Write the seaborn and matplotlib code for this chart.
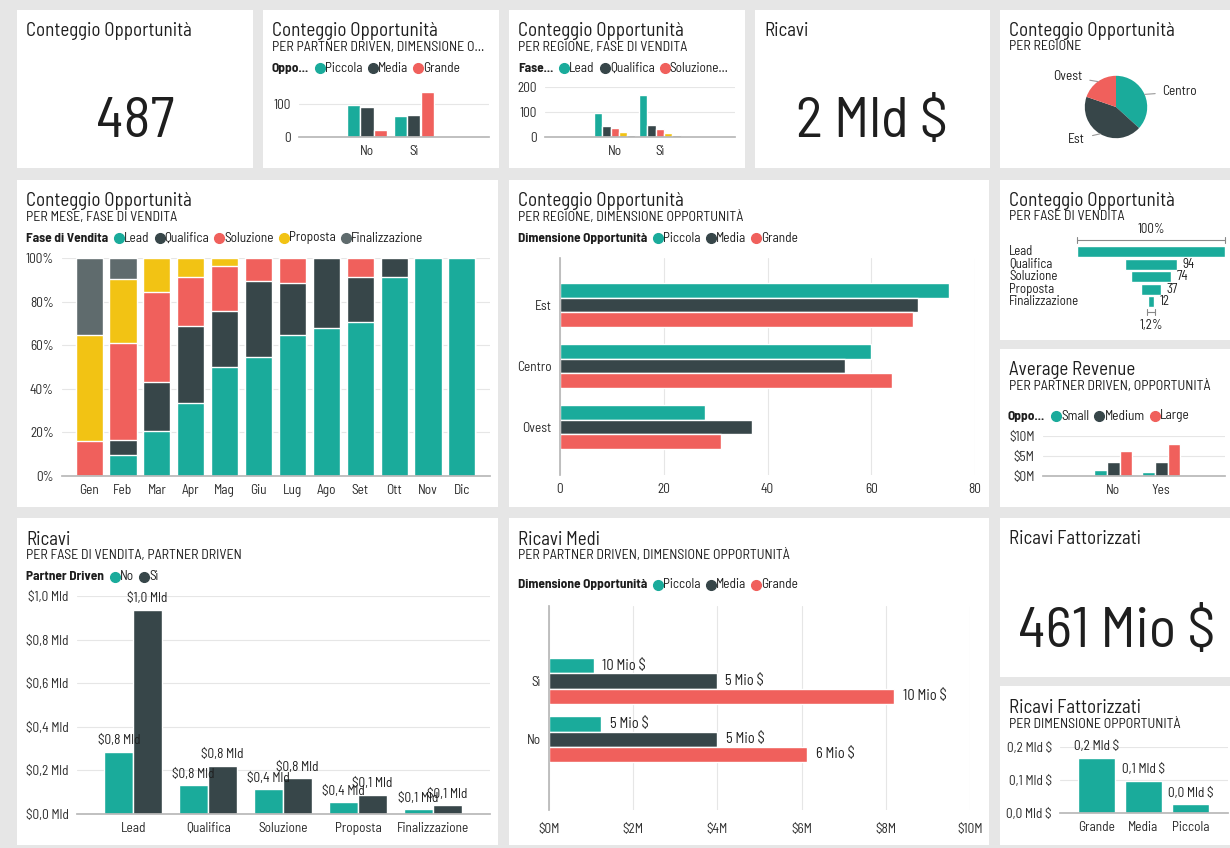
import matplotlib
matplotlib.use("Agg")
import matplotlib.pyplot as plt
import matplotlib.transforms as mtrans
from matplotlib import font_manager as fm
from matplotlib.lines import Line2D
from matplotlib.patches import Rectangle
import numpy as np
import pandas as pd
import seaborn as sns

sns.set_theme(style="white")


def pick(*names):
    for n in names:
        try:
            fm.findfont(fm.FontProperties(family=n), fallback_to_default=False)
            return n
        except Exception:
            pass
    return "DejaVu Sans"


NARROW = pick("Barlow Semi Condensed", "Roboto Condensed", "Archivo Narrow", "Roboto")
plt.rcParams["font.family"] = [NARROW, "DejaVu Sans"]

TEAL, DARK, RED, YELLOW, GRAY = "#1AAB9B", "#374649", "#F0605C", "#F2C314", "#5F6B6D"

# ---- data ----
partner = ["No", "Sì"]
dim_it = ["Piccola", "Media", "Grande"]
cnt_piccola = [95, 62]
cnt_media = [90, 66]
cnt_grande = [22, 135]

fasi = ["Lead", "Qualifica", "Soluzione", "Proposta", "Finalizzazione"]
fase_no = [98, 45, 35, 22, 8]
fase_si = [168, 47, 32, 15, 8]

mesi = ["Gen", "Feb", "Mar", "Apr", "Mag", "Giu", "Lug", "Ago", "Set", "Ott", "Nov", "Dic"]
pct_lead = [0, 9.5, 20.8, 33.6, 49.9, 54.5, 64.6, 67.9, 70.5, 91.5, 100, 100]
pct_qual = [0, 6.8, 22.1, 35.3, 25.8, 35.1, 24.1, 32.1, 20.8, 8.5, 0, 0]
pct_sol = [16, 44.7, 41.7, 22.4, 20.6, 10.4, 11.3, 0, 8.7, 0, 0, 0]
pct_prop = [48.5, 29.5, 15.4, 8.7, 3.7, 0, 0, 0, 0, 0, 0, 0]
pct_fin = [35.5, 9.5, 0, 0, 0, 0, 0, 0, 0, 0, 0, 0]

regioni = ["Est", "Centro", "Ovest"]
reg_piccola = [75, 60, 28]
reg_media = [69, 55, 37]
reg_grande = [68, 64, 31]

pie_regioni = ["Centro", "Est", "Ovest"]

funnel_val = [270, 94, 74, 37, 12]
funnel_lbl = ["", "94", "74", "37", "12"]

partner_en = ["No", "Yes"]
dim_en = ["Small", "Medium", "Large"]
avg_small = [1.4, 1.0]
avg_medium = [3.5, 3.5]
avg_large = [6.2, 7.9]

ric_no = [0.286, 0.133, 0.113, 0.056, 0.024]
ric_si = [0.938, 0.222, 0.164, 0.089, 0.040]
ric_no_lbl = ["$0,8 Mld", "$0,8 Mld", "$0,4 Mld", "$0,4 Mld", "$0,1 Mld"]
ric_si_lbl = ["$1,0 Mld", "$0,8 Mld", "$0,8 Mld", "$0,1 Mld", "$0,1 Mld"]

medi_partner = ["Sì", "No"]
medi_piccola = [1.06, 1.24]
medi_media = [3.99, 4.0]
medi_grande = [8.2, 6.14]
medi_lbl = {"Piccola": ["10 Mio $", "5 Mio $"], "Media": ["5 Mio $", "5 Mio $"],
            "Grande": ["10 Mio $", "6 Mio $"]}

fatt_dim = ["Grande", "Media", "Piccola"]
fatt_val = [0.168, 0.098, 0.028]
fatt_lbl = ["0,2 Mld $", "0,1 Mld $", "0,0 Mld $"]

kpi_count = "487"
kpi_ricavi = "2 Mld $"
kpi_fatt = "461 Mio $"

# ---- layout helpers (pixel coords, y from top) ----
W, H = 1230, 848
fig = plt.figure(figsize=(W / 100, H / 100), dpi=100, facecolor="#e6e6e6")
renderer = fig.canvas.get_renderer()
INK = "#1e1e1e"
FS = 9.6


def box(x0, y0, x1, y1):
    return [x0 / W, 1 - y1 / H, (x1 - x0) / W, (y1 - y0) / H]


def ftext(x, y, s, **kw):
    return fig.text(x / W, 1 - y / H, s, **kw)


def panel(x0, y0, x1, y1, title, sub=None, ty=21, sy=37):
    fig.add_artist(Rectangle((x0 / W, 1 - y1 / H), (x1 - x0) / W, (y1 - y0) / H,
                             transform=fig.transFigure, fc="white", ec="none", zorder=-1))
    ftext(x0 + 9, y0 + ty, title, fontsize=13.6, va="center", color=INK)
    if sub:
        ftext(x0 + 9, y0 + sy, sub, fontsize=10, va="center", color=INK)


def legend_row(x, y, title, labels, colors, fs=FS):
    t = ftext(x, y, title, fontsize=fs, fontweight="bold", va="center", color=INK)
    cur = t.get_window_extent(renderer).x1 + 7
    for lab, c in zip(labels, colors):
        fig.add_artist(Line2D([(cur + 4) / W], [1 - y / H], marker="o", ms=7, color=c,
                              ls="", transform=fig.transFigure))
        t = ftext(cur + 9, y, lab, fontsize=fs, va="center", color=INK)
        cur = t.get_window_extent(renderer).x1 + 6


def style(ax, grid="y", base="bottom"):
    for s in ax.spines.values():
        s.set_visible(False)
    if base:
        ax.spines[base].set_visible(True)
        ax.spines[base].set_color("#b8b8b8")
    ax.tick_params(length=0, labelsize=FS, colors="#2a2a2a", pad=6)
    ax.set_xlabel("")
    ax.set_ylabel("")
    ax.set_axisbelow(True)
    if grid:
        ax.grid(axis=grid, color="#e6e6e6", lw=0.8)
    ax.set_facecolor("none")


def big(x, y, s):
    ftext(x, y, s, fontsize=41, ha="center", va="baseline", color=INK)


# ---- KPI cards ----
panel(17, 10, 253, 168, "Conteggio Opportunità")
big(135, 137, kpi_count)
panel(755, 10, 990, 168, "Ricavi")
big(872, 137, kpi_ricavi)
panel(1000, 518, 1230, 677, "Ricavi Fattorizzati")
big(1117, 647, kpi_fatt)

# ---- Conteggio per partner driven, dimensione ----
panel(263, 10, 499, 168, "Conteggio Opportunità", "PER PARTNER DRIVEN, DIMENSIONE O...")
legend_row(272, 68, "Oppo...", dim_it, [TEAL, DARK, RED])
df = pd.DataFrame({"p": partner * 3, "d": np.repeat(dim_it, 2),
                   "v": cnt_piccola + cnt_media + cnt_grande})
ax = fig.add_axes(box(299, 87, 489, 137))
sns.barplot(df, x="p", y="v", hue="d", hue_order=dim_it, palette=[TEAL, DARK, RED],
            width=0.88, gap=0.05, errorbar=None, legend=False, saturation=1, ax=ax)
style(ax)
ax.set_ylim(0, 150)
ax.set_yticks([0, 100])
ax.set_xlim(-1.45, 2.6)

# ---- Conteggio per regione, fase ----
panel(509, 10, 745, 168, "Conteggio Opportunità", "PER REGIONE, FASE DI VENDITA")
legend_row(518, 68, "Fase...", ["Lead", "Qualifica", "Soluzione..."], [TEAL, DARK, RED])
df = pd.DataFrame({"p": partner * 5, "f": np.repeat(fasi, 2),
                   "v": [v for pair in zip(fase_no, fase_si) for v in pair]})
ax = fig.add_axes(box(545, 87, 735, 137))
sns.barplot(df, x="p", y="v", hue="f", hue_order=fasi, palette=[TEAL, DARK, RED, YELLOW, GRAY],
            width=0.92, errorbar=None, legend=False, saturation=1, ax=ax)
style(ax)
ax.set_ylim(0, 200)
ax.set_yticks([0, 100, 200])
ax.set_xlim(-1.55, 2.67)

# ---- Pie per regione ----
panel(1000, 10, 1230, 168, "Conteggio Opportunità", "PER REGIONE")
reg_tot = dict(zip(regioni, np.array(reg_piccola) + np.array(reg_media) + np.array(reg_grande)))
ax = fig.add_axes(box(1077, 68, 1155, 146))
wedges, _ = ax.pie([reg_tot[r] for r in pie_regioni], colors=[TEAL, DARK, RED], startangle=90,
                   counterclock=False, wedgeprops=dict(linewidth=0))
ax.set_aspect("equal")
for w, name in zip(wedges, pie_regioni):
    mid = np.deg2rad((w.theta1 + w.theta2) / 2)
    c, s = np.cos(mid), np.sin(mid)
    sign = 1 if c >= 0 else -1
    tx, ty = 1.25 * c + sign * 0.35, 1.2 * s
    ax.annotate(name, xy=(c, s), xytext=(tx, ty), ha="left" if sign > 0 else "right",
                va="center", fontsize=FS, color=INK,
                arrowprops=dict(arrowstyle="-", color="#999999", lw=0.8, shrinkA=3, shrinkB=0))

# ---- 100% stacked per mese ----
panel(17, 180, 498, 507, "Conteggio Opportunità", "PER MESE, FASE DI VENDITA")
legend_row(26, 238, "Fase di Vendita", fasi, [TEAL, DARK, RED, YELLOW, GRAY])
ax = fig.add_axes(box(62, 258, 490, 476))
layers = [pct_lead, pct_qual, pct_sol, pct_prop, pct_fin]
cum = np.cumsum(np.array(layers), axis=0)
for k, col in reversed(list(enumerate([TEAL, DARK, RED, YELLOW, GRAY]))):
    sns.barplot(x=mesi, y=cum[k], order=mesi, color=col, width=0.8, errorbar=None,
                saturation=1, ax=ax)
style(ax)
ax.set_ylim(0, 100)
ax.set_yticks([0, 20, 40, 60, 80, 100])
ax.set_yticklabels([f"{t}%" for t in [0, 20, 40, 60, 80, 100]])
ax.set_xlim(-0.8, 11.83)

# ---- per regione, dimensione (horizontal) ----
panel(509, 180, 989, 507, "Conteggio Opportunità", "PER REGIONE, DIMENSIONE OPPORTUNITÀ")
legend_row(518, 238, "Dimensione Opportunità", dim_it, [TEAL, DARK, RED])
df = pd.DataFrame({"r": regioni * 3, "d": np.repeat(dim_it, 3),
                   "v": reg_piccola + reg_media + reg_grande})
ax = fig.add_axes(box(560, 258, 975, 475))
sns.barplot(df, y="r", x="v", hue="d", hue_order=dim_it, order=regioni, palette=[TEAL, DARK, RED],
            width=0.72, errorbar=None, legend=False, orient="h", saturation=1, ax=ax)
style(ax, grid="x", base="left")
ax.set_xlim(0, 80)
ax.set_xticks([0, 20, 40, 60, 80])
ax.set_ylim(2.79, -0.77)

# ---- funnel ----
panel(1000, 180, 1230, 340, "Conteggio Opportunità", "PER FASE DI VENDITA")
ax = fig.add_axes(box(1077, 245.5, 1225, 308))
ax.barh(range(len(fasi)), funnel_val, left=-np.array(funnel_val) / 2, height=0.86, color=TEAL)
ax.set_xlim(-135, 135)
ax.set_ylim(4.5, -0.5)
ax.axis("off")
blend = mtrans.blended_transform_factory(fig.transFigure, ax.transData)
for i, (f, v, lab) in enumerate(zip(fasi, funnel_val, funnel_lbl)):
    ax.text(1009 / W, i, f, transform=blend, va="center", fontsize=9.3, color=INK)
    if lab:
        ax.text(v / 2 + 10, i, lab, va="center", ha="left", fontsize=9.3, color=INK)
bc = "#888888"
ax.plot([-135, 135], [-0.94, -0.94], color=bc, lw=0.8, clip_on=False)
for xe in (-135, 135):
    ax.plot([xe, xe], [-1.2, -0.68], color=bc, lw=0.8, clip_on=False)
ax.text(0, -1.75, "100%", ha="center", va="center", fontsize=9.3, color=INK)
ax.plot([-8, 8], [4.82, 4.82], color=bc, lw=0.8, clip_on=False)
for xe in (-8, 8):
    ax.plot([xe, xe], [4.6, 5.05], color=bc, lw=0.8, clip_on=False)
ax.text(0, 5.86, "1,2%", ha="center", va="center", fontsize=9.3, color=INK)

# ---- Average Revenue ----
panel(1000, 349, 1230, 507, "Average Revenue", "PER PARTNER DRIVEN, OPPORTUNITÀ")
legend_row(1008, 416, "Oppo...", dim_en, [TEAL, DARK, RED])
df = pd.DataFrame({"p": partner_en * 3, "d": np.repeat(dim_en, 2),
                   "v": avg_small + avg_medium + avg_large})
ax = fig.add_axes(box(1043, 436, 1225, 476))
sns.barplot(df, x="p", y="v", hue="d", hue_order=dim_en, palette=[TEAL, DARK, RED],
            width=0.8, errorbar=None, legend=False, saturation=1, ax=ax)
style(ax)
ax.set_ylim(0, 10)
ax.set_yticks([0, 5, 10])
ax.set_yticklabels(["$0M", "$5M", "$10M"])
ax.set_xlim(-1.46, 2.33)

# ---- Ricavi per fase, partner ----
panel(17, 518, 498, 845, "Ricavi", "PER FASE DI VENDITA, PARTNER DRIVEN", ty=22)
legend_row(26, 577, "Partner Driven", partner, [TEAL, DARK])
df = pd.DataFrame({"f": fasi * 2, "p": np.repeat(partner, 5), "v": ric_no + ric_si})
ax = fig.add_axes(box(77, 596, 490, 814))
sns.barplot(df, x="f", y="v", hue="p", hue_order=partner, order=fasi, palette=[TEAL, DARK],
            width=0.77, errorbar=None, legend=False, saturation=1, ax=ax)
style(ax)
ax.set_ylim(0, 1.0)
ticks = [0, 0.2, 0.4, 0.6, 0.8, 1.0]
ax.set_yticks(ticks)
ax.set_yticklabels([f"${t:.1f} Mld".replace(".", ",") for t in ticks])
ax.set_xlim(-0.75, 4.76)
for cont, labs in zip(ax.containers, [ric_no_lbl, ric_si_lbl]):
    ax.bar_label(cont, labels=labs, padding=3, fontsize=FS, color=INK, clip_on=False)

# ---- Ricavi Medi ----
panel(509, 518, 989, 845, "Ricavi Medi", "PER PARTNER DRIVEN, DIMENSIONE OPPORTUNITÀ", ty=22)
legend_row(518, 585, "Dimensione Opportunità", dim_it, [TEAL, DARK, RED])
df = pd.DataFrame({"p": medi_partner * 3, "d": np.repeat(dim_it, 2),
                   "v": medi_piccola + medi_media + medi_grande})
ax = fig.add_axes(box(549, 606, 970, 810))
sns.barplot(df, y="p", x="v", hue="d", hue_order=dim_it, order=medi_partner,
            palette=[TEAL, DARK, RED], width=0.78, errorbar=None, legend=False, orient="h",
            saturation=1, ax=ax)
style(ax, grid="x", base="left")
ax.set_xlim(0, 10)
ax.set_xticks([0, 2, 4, 6, 8, 10])
ax.set_xticklabels([f"${t}M" for t in [0, 2, 4, 6, 8, 10]])
ax.tick_params(axis="x", pad=9)
ax.set_ylim(2.22, -1.29)
for cont, d in zip(ax.containers, dim_it):
    ax.bar_label(cont, labels=medi_lbl[d], padding=6, fontsize=10.4, color=INK)

# ---- Ricavi Fattorizzati per dimensione ----
panel(1000, 686, 1230, 845, "Ricavi Fattorizzati", "PER DIMENSIONE OPPORTUNITÀ", ty=22, sy=38)
ax = fig.add_axes(box(1060, 747, 1228, 813))
sns.barplot(x=fatt_dim, y=fatt_val, order=fatt_dim, color=TEAL, width=0.78, errorbar=None,
            saturation=1, ax=ax)
style(ax)
ax.set_ylim(0, 0.2)
ax.set_yticks([0, 0.1, 0.2])
ax.set_yticklabels(["0,0 Mld $", "0,1 Mld $", "0,2 Mld $"])
ax.set_xlim(-0.77, 2.8)
ax.bar_label(ax.containers[0], labels=fatt_lbl, padding=3, fontsize=FS, color=INK)

fig.savefig("out.png", dpi=100, facecolor=fig.get_facecolor())
